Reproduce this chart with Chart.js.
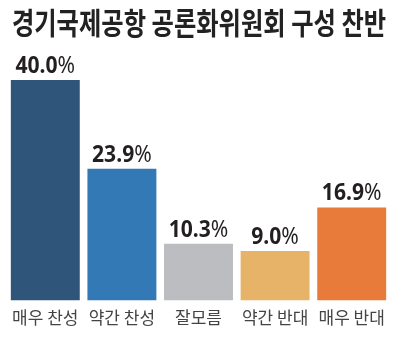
<!DOCTYPE html>
<html lang="ko">
<head>
<meta charset="utf-8">
<script src="https://cdn.jsdelivr.net/npm/chart.js@4/dist/chart.umd.min.js"></script>
<style>
  html, body { margin: 0; padding: 0; background: #fff; }
  #wrap { width: 400px; height: 339px; }
</style>
</head>
<body>
<div id="wrap"><canvas id="myChart" width="400" height="339"></canvas></div>
<script>
const categories = ['매우 찬성', '약간 찬성', '잘모름', '약간 반대', '매우 반대'];
const values = [40.0, 23.9, 10.3, 9.0, 16.9];
const barColors = ['#30557b', '#3379b5', '#bcbdc1', '#e6b369', '#e97b3a'];
const titleText = '경기국제공항 공론화위원회 구성 찬반';

const FONT = '"Noto Sans CJK KR", "Noto Sans", sans-serif';

// text in a narrower face: draw with horizontal squeeze around x
function condensedText(ctx, text, x, y, sx) {
  ctx.save();
  ctx.translate(x, y);
  ctx.scale(sx, 1);
  ctx.fillText(text, 0, 0);
  ctx.restore();
}

// heading drawn above the plot
const heading = {
  id: 'heading',
  afterDraw(chart) {
    const ctx = chart.ctx;
    ctx.save();
    ctx.fillStyle = '#222';
    ctx.font = 'bold 30px ' + FONT;
    ctx.textAlign = 'center';
    ctx.textBaseline = 'middle';
    condensedText(ctx, titleText, chart.width / 2 - 1, 23, 0.81);
    ctx.restore();
  }
};

// percent labels above each bar: bold number, lighter % sign
const valueLabels = {
  id: 'valueLabels',
  afterDatasetsDraw(chart) {
    const ctx = chart.ctx;
    const meta = chart.getDatasetMeta(0);
    const sx = 0.88;
    ctx.save();
    ctx.fillStyle = '#231f20';
    ctx.textBaseline = 'alphabetic';
    ctx.textAlign = 'left';
    meta.data.forEach((bar, i) => {
      const num = values[i].toFixed(1);
      ctx.font = 'bold 24px "Noto Sans", sans-serif';
      const wNum = ctx.measureText(num).width * sx;
      ctx.font = '24px "Noto Sans", sans-serif';
      const wPct = ctx.measureText('%').width * sx;
      const x0 = bar.x - (wNum + wPct) / 2;
      const y = bar.y - 7;
      ctx.font = 'bold 24px "Noto Sans", sans-serif';
      condensedText(ctx, num, x0, y, sx);
      ctx.font = '24px "Noto Sans", sans-serif';
      condensedText(ctx, '%', x0 + wNum, y, sx);
    });
    ctx.restore();
  }
};

const ctx = document.getElementById('myChart').getContext('2d');
new Chart(ctx, {
  type: 'bar',
  data: {
    labels: categories,
    datasets: [{
      data: values,
      backgroundColor: barColors,
      borderWidth: 0,
      barPercentage: 0.9,
      categoryPercentage: 1.0,
    }],
  },
  options: {
    responsive: false,
    animation: false,
    layout: { padding: { left: 7, right: 10, top: 80, bottom: 4 } },
    plugins: {
      legend: { display: false },
      tooltip: { enabled: false },
    },
    scales: {
      x: {
        grid: { display: false, drawTicks: false },
        border: { display: false },
        ticks: {
          color: '#444',
          font: { family: FONT, size: 17 },
          padding: 7,
        },
      },
      y: {
        display: false,
        min: 0,
        max: 40,
      },
    },
  },
  plugins: [heading, valueLabels],
});
</script>
</body>
</html>
